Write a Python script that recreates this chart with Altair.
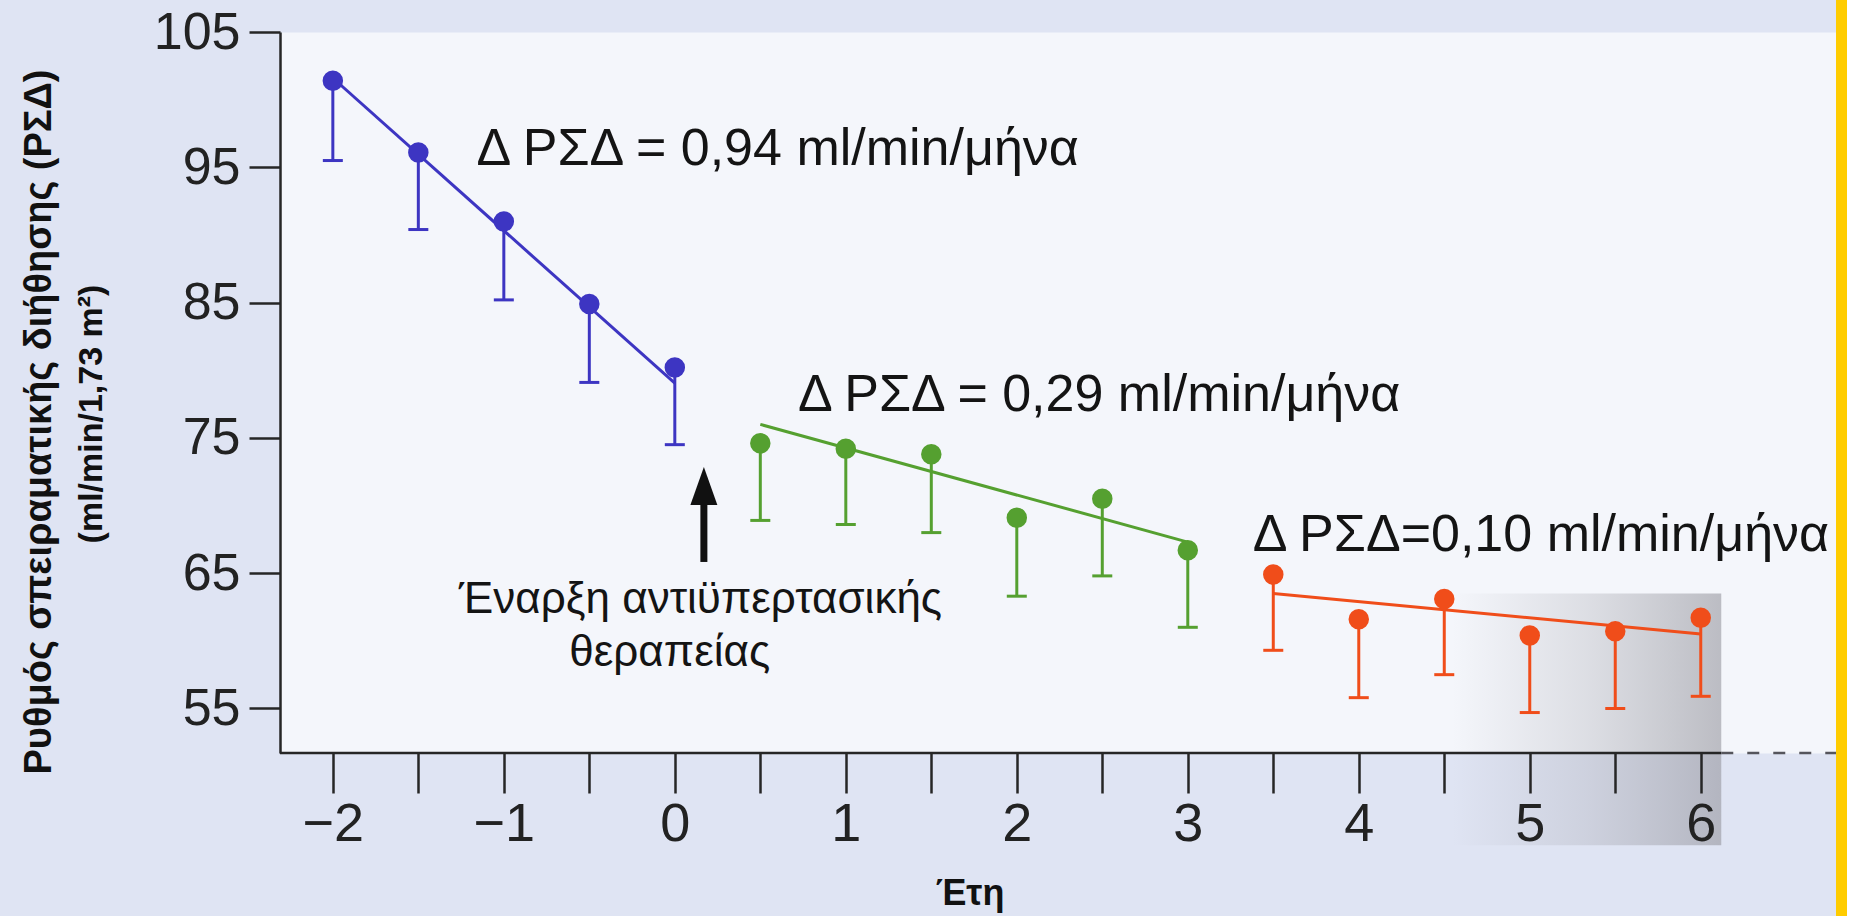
import altair as alt
import pandas as pd

# Years relative to the start of antihypertensive therapy
years_pre = [-2, -1.5, -1, -0.5, 0]
gfr_pre = [101.4, 96.1, 91.0, 84.9, 80.2]
low_pre = [95.5, 90.4, 85.2, 79.1, 74.5]

years_early = [0.5, 1, 1.5, 2, 2.5, 3]
gfr_early = [74.6, 74.2, 73.8, 69.1, 70.5, 66.7]
low_early = [68.9, 68.6, 68.0, 63.3, 64.8, 61.0]

years_late = [3.5, 4, 4.5, 5, 5.5, 6]
gfr_late = [64.9, 61.6, 63.1, 60.4, 60.7, 61.7]
low_late = [59.3, 55.8, 57.5, 54.7, 55.0, 55.9]

phases = ["pre", "early", "late"]

# Trend segments: start/end year, starting GFR and monthly decline (ml/min/month)
trend_start = [-2, 0.5, 3.5]
trend_end = [0, 3, 6]
trend_y0 = [101.6, 76.0, 63.5]
slope_month = [0.94, 0.29, 0.10]
label_sep = [" = ", " = ", "="]
label_x = [-1.16, 0.72, 3.38]
label_y = [96.35, 78.2, 67.8]

x_ticks = [-2, -1.5, -1, -0.5, 0, 0.5, 1, 1.5, 2, 2.5, 3, 3.5, 4, 4.5, 5, 5.5, 6]
y_ticks = [55, 65, 75, 85, 95, 105]

W, H = 1556, 721
FONT = "Liberation Sans"
TITLE_FONT = "Liberation Sans Narrow, Liberation Sans"
AXIS_COLOR = "#262626"
colors = ["#3d35c2", "#55a030", "#f04d1a"]

pts = pd.concat([
    pd.DataFrame({"year": y, "gfr": g, "low": l, "phase": p})
    for y, g, l, p in [
        (years_pre, gfr_pre, low_pre, "pre"),
        (years_early, gfr_early, low_early, "early"),
        (years_late, gfr_late, low_late, "late"),
    ]
], ignore_index=True)

trend = pd.DataFrame({
    "x1": trend_start,
    "x2": trend_end,
    "y1": trend_y0,
    "y2": [y0 - s * 12 * (b - a) for y0, s, a, b in zip(trend_y0, slope_month, trend_start, trend_end)],
    "phase": phases,
})

labels = pd.DataFrame({
    "year": label_x,
    "gfr": label_y,
    "text": [f"Δ ΡΣΔ{sep}{s:.2f}".replace(".", ",") + " ml/min/μήνα" for s, sep in zip(slope_month, label_sep)],
})

therapy_note = pd.DataFrame({
    "year": [0.15, -0.03],
    "gfr": [63.0, 59.1],
    "text": ["Έναρξη αντιϋπερτασικής", "θεραπείας"],
})

arrow_x = 0.17
arrow = pd.DataFrame({"year": [arrow_x], "tail": [65.83], "neck": [70.4], "head": [71.44]})
one = pd.DataFrame({"k": [0]})

x_scale = alt.Scale(domain=[-2.309, 6.791], nice=False, zero=False)
y_scale = alt.Scale(domain=[51.71, 105], nice=False, zero=False)
color_scale = alt.Scale(domain=phases, range=colors)

x_axis = alt.Axis(
    values=x_ticks, labelExpr="datum.value % 1 === 0 ? format(datum.value, 'd') : ''",
    domain=False, grid=False, title=None, tickSize=40, tickWidth=2.5, tickColor=AXIS_COLOR,
    labelFont=FONT, labelFontSize=54, labelColor="#222222", labelPadding=4, zindex=1,
)
y_axis = alt.Axis(
    values=y_ticks, grid=False, title=None, tickSize=31, tickWidth=2.5, tickColor=AXIS_COLOR,
    domainColor=AXIS_COLOR, domainWidth=2.5, labelFont=FONT, labelFontSize=52,
    labelColor="#222222", labelPadding=9, zindex=1,
)

X = alt.X("year:Q", scale=x_scale, axis=x_axis)
Y = alt.Y("gfr:Q", scale=y_scale, axis=y_axis)
C = alt.Color("phase:N", scale=color_scale, legend=None)

# grey shading in the lower-right corner, behind the data
shade = alt.Chart(one).mark_rect(
    fill=alt.LinearGradient(
        gradient="linear", x1=0, x2=1, y1=0, y2=0,
        stops=[alt.GradientStop(color="rgba(160,160,168,0)", offset=0),
               alt.GradientStop(color="rgba(160,160,168,0.28)", offset=0.5),
               alt.GradientStop(color="rgba(150,150,158,0.6)", offset=1)],
    )
).encode(x=alt.datum(4.55, scale=x_scale), x2=alt.datum(6.12), y=alt.datum(63.5, scale=y_scale), y2=alt.datum(44.9))

x_line = alt.Chart(one).mark_rule(color=AXIS_COLOR, strokeWidth=2.5).encode(
    x=alt.datum(-2.309), x2=alt.datum(6.12), y=alt.value(H)
)
x_line_ext = alt.Chart(one).mark_rule(color="#55555c", strokeWidth=2.5, strokeDash=[12, 14]).encode(
    x=alt.datum(6.12), x2=alt.value(W), y=alt.value(H)
)

err = alt.Chart(pts).mark_rule(strokeWidth=3).encode(x=X, y=Y, y2="low:Q", color=C)
caps = alt.Chart(pts).mark_rule(strokeWidth=3, xOffset=-10, x2Offset=10).encode(
    x="year:Q", x2="year:Q", y="low:Q", color=C
)
fit = alt.Chart(trend).mark_rule(strokeWidth=3).encode(
    x="x1:Q", x2="x2:Q", y="y1:Q", y2="y2:Q", color=C
)
dots = alt.Chart(pts).mark_circle(size=420, opacity=1).encode(x="year:Q", y="gfr:Q", color=C)

slope_text = alt.Chart(labels).mark_text(
    font=FONT, fontSize=52, align="left", baseline="middle", color="#141414"
).encode(x="year:Q", y="gfr:Q", text="text:N")

note_text = alt.Chart(therapy_note).mark_text(
    font=FONT, fontSize=44, align="center", baseline="middle", color="#141414"
).encode(x="year:Q", y="gfr:Q", text="text:N")

arrow_shaft = alt.Chart(arrow).mark_rule(color="#111111", strokeWidth=7).encode(
    x="year:Q", y="tail:Q", y2="neck:Q"
)
arrow_head = alt.Chart(arrow).mark_point(
    shape="M0,-1L0.71,1L-0.71,1Z", size=1444, filled=True, opacity=1, color="#111111"
).encode(x="year:Q", y="head:Q")

y_title_1 = alt.Chart(one).mark_text(
    text="Ρυθμός σπειραματικής διήθησης (ΡΣΔ)", angle=270, font=TITLE_FONT,
    fontSize=38, fontWeight="bold", color="#111111", align="center", baseline="middle"
).encode(x=alt.value(-240), y=alt.value(390))
y_title_2 = alt.Chart(one).mark_text(
    text="(ml/min/1,73 m²)", angle=270, font=TITLE_FONT,
    fontSize=34, fontWeight="bold", color="#111111", align="center", baseline="middle"
).encode(x=alt.value(-188), y=alt.value(382))
x_title = alt.Chart(one).mark_text(
    text="Έτη", font=TITLE_FONT, fontSize=36, fontWeight="bold", color="#111111",
    align="center", baseline="middle"
).encode(x=alt.value(690), y=alt.value(862))

edge_yellow = alt.Chart(one).mark_rect(color="#ffcc00").encode(
    x=alt.value(W), x2=alt.value(W + 11), y=alt.value(-32), y2=alt.value(H + 163)
)
edge_white = alt.Chart(one).mark_rect(color="#ffffff").encode(
    x=alt.value(W + 11), x2=alt.value(W + 18), y=alt.value(-32), y2=alt.value(H + 163)
)

chart = alt.layer(
    shade, err, caps, fit, dots, x_line, x_line_ext, slope_text, note_text,
    arrow_shaft, arrow_head, y_title_1, y_title_2, x_title, edge_yellow, edge_white,
).properties(
    width=W, height=H,
    autosize=alt.AutoSizeParams(type="none"),
    padding={"left": 280, "top": 32, "right": 18, "bottom": 163},
    background="#dfe4f3",
).configure_view(fill="#f4f6fb", stroke="transparent")

chart.save("out.html", embed_options={"renderer": "svg", "actions": False})
